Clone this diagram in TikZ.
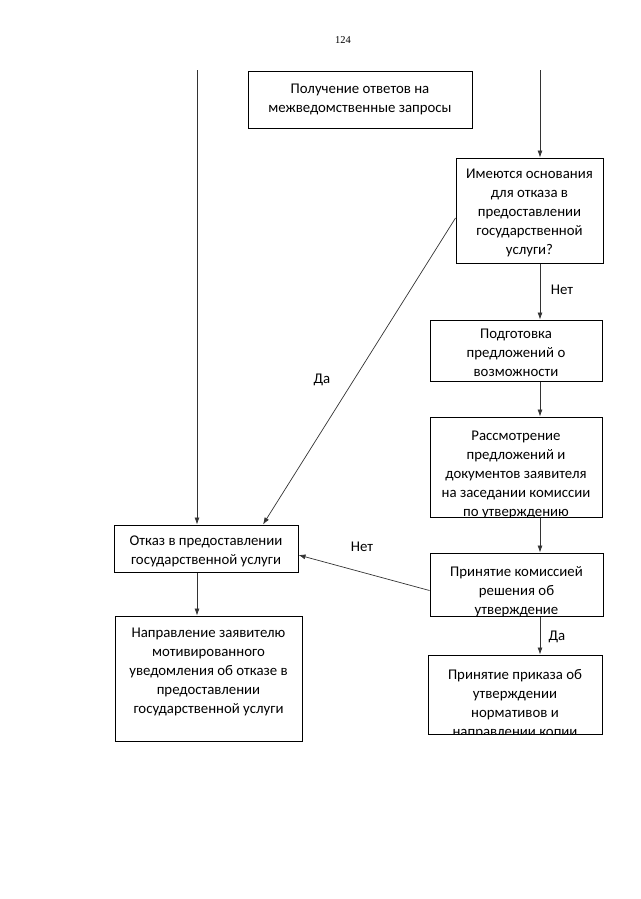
\documentclass[tikz,border=0pt]{standalone}
\usepackage{fontspec}
\setmainfont{Carlito}
\newfontfamily\pgnum{Liberation Serif}
\usetikzlibrary{arrows.meta}
\begin{document}
\begin{tikzpicture}[x=1pt,y=-1pt,
  box/.style={draw=black,line width=1pt,inner sep=0pt},
  txt/.style={anchor=base,align=center,inner sep=0pt,font=\fontsize{14.8}{19}\selectfont},
  conn/.style={draw=black!80,line width=0.7pt,-{Latex[length=7pt,width=5pt]}},
  lbl/.style={font=\fontsize{14.8}{19}\selectfont,inner sep=0pt}]
\useasboundingbox (0,0) rectangle (640,899);
\node[font=\pgnum\fontsize{10.5}{12}\selectfont,inner sep=0pt] (pg) at (343,40) {124};
% boxes
\node[box,minimum width=224pt,minimum height=57pt] (b1) at (360,99.5) {};
\node[box,minimum width=147pt,minimum height=105pt] (b2) at (529.5,210.5) {};
\node[box,minimum width=172pt,minimum height=61pt] (b3) at (516,350.5) {};
\node[box,minimum width=172pt,minimum height=100pt] (b4) at (516,467) {};
\node[box,minimum width=173pt,minimum height=63pt] (b5) at (516.5,584.5) {};
\node[box,minimum width=174pt,minimum height=79pt] (b6) at (515,694.5) {};
\node[box,minimum width=184pt,minimum height=47pt] (otk) at (206,548.5) {};
\node[box,minimum width=187pt,minimum height=125pt] (napr) at (208.5,678.5) {};
% texts (anchor=base is the baseline of the last line)
\node[txt] (t1) at (360,112) {Получение ответов на\\межведомственные запросы};
\node[txt] (t2) at (529.5,254.5) {Имеются основания\\для отказа в\\предоставлении\\государственной\\услуги?};
\node[txt] (t3) at (516,376) {Подготовка\\предложений о\\возможности};
\begin{scope}
\clip (b4.south west) rectangle (b4.north east);
\node[txt] (t4) at (516,516.5) {Рассмотрение\\предложений и\\документов заявителя\\на заседании комиссии\\по утверждению};
\end{scope}
\begin{scope}
\clip (b5.south west) rectangle (b5.north east);
\node[txt] (t5) at (516.5,614) {Принятие комиссией\\решения об\\утверждение};
\end{scope}
\begin{scope}
\clip (b6.south west) rectangle (b6.north east);
\node[txt] (t6) at (515,736.5) {Принятие приказа об\\утверждении\\нормативов и\\направлении копии};
\end{scope}
\node[txt] (t7) at (206,564.5) {Отказ в предоставлении\\государственной услуги};
\node[txt] (t8) at (208.5,713) {Направление заявителю\\мотивированного\\уведомления об отказе в\\предоставлении\\государственной услуги};
% connectors
\coordinate (lt) at (197,70);
\coordinate (rt) at (540,70);
\draw[conn] (lt) -- (lt |- otk.north);
\draw[conn] (rt) -- (rt |- b2.north);
\draw[conn] (rt |- b2.south) -- (rt |- b3.north);
\draw[conn] (rt |- b3.south) -- (rt |- b4.north);
\draw[conn] (rt |- b4.south) -- (rt |- b5.north);
\draw[conn] (rt |- b5.south) -- (rt |- b6.north);
\draw[conn] (lt |- otk.south) -- (lt |- napr.north);
\draw[conn] ([yshift=-7.5pt]b2.west) -- ([xshift=57pt]otk.north);
\draw[conn] ([yshift=-6pt]b5.west) -- ([yshift=-6.5pt]otk.east);
% labels
\node[lbl] (l1) at (562,290) {Нет};
\node[lbl] (l2) at (557,637) {Да};
\node[lbl] (l3) at (322,380) {Да};
\node[lbl] (l4) at (362,547) {Нет};
\end{tikzpicture}
\end{document}
